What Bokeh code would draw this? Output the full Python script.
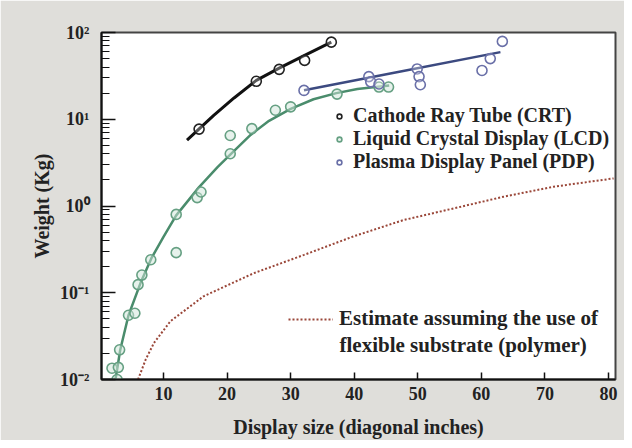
from bokeh.plotting import figure
from bokeh.models import Legend, LegendItem, Label, FixedTicker, LogTicker
from bokeh.embed import file_html
from bokeh.resources import INLINE

# ---- data ----
crt_x = [15.6, 24.6, 28.2, 32.2, 36.4]
crt_y = [7.7, 27.4, 37.6, 47.7, 77.4]
crt_fit_x = [13.7, 17.9, 21.1, 24.6, 28.2, 32.2, 36.4]
crt_fit_y = [5.74, 11.1, 17.6, 28.1, 38.9, 54.5, 77.4]

lcd_x = [1.9, 2.9, 2.7, 3.1, 4.5, 5.5, 6.0, 6.6, 8.0, 12.0, 12.0, 15.3, 15.9,
         20.5, 20.5, 23.9, 27.6, 30.0, 37.3, 43.9, 45.4]
lcd_y = [0.0135, 0.0138, 0.0100, 0.022, 0.055, 0.058, 0.124, 0.16, 0.24, 0.29,
         0.80, 1.25, 1.45, 4.0, 6.5, 7.8, 12.7, 13.9, 19.5, 23.5, 23.5]
lcd_fit_x = [2.45, 3.2, 4.5, 6.4, 8.1, 10.0, 12.0, 15.6, 18.5, 20.5, 23.7,
             26.6, 30.0, 33.6, 37.2, 40.5, 45.5]
lcd_fit_y = [0.0100, 0.0220, 0.055, 0.13, 0.25, 0.44, 0.78, 1.65, 2.8, 3.9,
             6.6, 9.6, 13.2, 17.0, 20.0, 22.3, 24.5]

pdp_x = [32.1, 42.3, 42.6, 43.9, 49.9, 50.2, 50.4, 60.1, 61.4, 63.3]
pdp_y = [21.5, 31.0, 27.0, 25.5, 38.0, 31.0, 25.0, 36.5, 50.0, 79.0]
pdp_fit_x = [32.1, 47.5, 63.0]
pdp_fit_y = [21.6, 35.8, 59.4]

est_x = [6.0, 7.2, 8.5, 11.1, 16.3, 24.2, 32.1, 39.9, 47.8, 55.7, 63.5, 71.4, 80.8]
est_y = [0.0100, 0.017, 0.0264, 0.047, 0.091, 0.168, 0.273, 0.447, 0.69, 0.94,
         1.28, 1.67, 2.08]

x_ticks = [10, 20, 30, 40, 50, 60, 70, 80]
y_tick_labels = {0.01: "10\u207b\u00b2", 0.1: "10\u207b\u00b9", 1: "10\u2070",
                 10: "10\u00b9", 100: "10\u00b2"}

series_names = ["Cathode Ray Tube (CRT)", "Liquid Crystal Display (LCD)",
                "Plasma Display Panel (PDP)"]
est_label_1 = "Estimate assuming the use of"
est_label_2 = "flexible substrate (polymer)"

FONT = "Liberation Serif"

p = figure(width=624, height=440, x_range=(0.25, 81.1), y_range=(0.01, 100),
           y_axis_type="log", output_backend="svg", toolbar_location=None,
           min_border_left=101, min_border_right=9, min_border_top=32,
           min_border_bottom=60)

p.border_fill_color = "#dfdeda"
p.background_fill_color = "white"
p.outline_line_color = "#444444"
p.outline_line_width = 2
p.xgrid.visible = False
p.ygrid.visible = False

# axes
p.xaxis.ticker = FixedTicker(ticks=x_ticks)
p.xaxis.major_tick_in = 7
p.xaxis.major_tick_out = 0
p.yaxis.ticker = LogTicker(num_minor_ticks=10)
p.yaxis.major_tick_in = 14
p.yaxis.major_tick_out = 0
p.yaxis.minor_tick_in = 8
p.yaxis.minor_tick_out = 0
p.yaxis.major_label_overrides = y_tick_labels
for ax in (p.xaxis[0], p.yaxis[0]):
    ax.axis_line_width = 2
    ax.axis_line_color = "#111111"
    ax.major_tick_line_color = "#111111"
    ax.major_tick_line_width = 1.5
    ax.major_label_text_font = FONT
    ax.major_label_text_font_style = "bold"
    ax.major_label_text_font_size = "18px"
    ax.major_label_text_color = "#222222"
    ax.axis_label_text_font = FONT
    ax.axis_label_text_font_style = "bold"
    ax.axis_label_text_font_size = "20px"
    ax.axis_label_text_color = "#222222"
p.xaxis.minor_tick_line_color = None
p.yaxis.minor_tick_line_color = "#111111"
p.xaxis.major_label_standoff = 7
p.yaxis.major_label_standoff = 12
p.xaxis.axis_label = "Display size (diagonal inches)"
p.yaxis.axis_label = "Weight (Kg)"
p.xaxis.axis_label_standoff = 13
p.yaxis.axis_label_standoff = 4

# estimate (dotted)
est_line = p.line(est_x, est_y, line_color="#9a4638", line_width=2,
                  line_dash="2 2")

# fit lines
p.line(lcd_fit_x, lcd_fit_y, line_color="#4a8c6c", line_width=2.5)
p.line(pdp_fit_x, pdp_fit_y, line_color="#3c4a80", line_width=2.5)
p.line(crt_fit_x, crt_fit_y, line_color="#111111", line_width=3)

# data points
lcd_sc = p.scatter(lcd_x, lcd_y, size=10, marker="circle", line_color="#66a083",
                   line_width=1.6, fill_color="#cfe6da", fill_alpha=0.5)
pdp_sc = p.scatter(pdp_x, pdp_y, size=10, marker="circle", line_color="#6a70a8",
                   line_width=1.6, fill_color="white", fill_alpha=0.3)
crt_sc = p.scatter(crt_x, crt_y, size=10, marker="circle", line_color="#222222",
                   line_width=1.6, fill_color="white", fill_alpha=0.3)

legend = Legend(items=[LegendItem(label=series_names[0], renderers=[crt_sc]),
                       LegendItem(label=series_names[1], renderers=[lcd_sc]),
                       LegendItem(label=series_names[2], renderers=[pdp_sc])],
                location=(232, 206), padding=0, margin=0, spacing=0,
                glyph_width=12, glyph_height=22, label_height=22,
                label_standoff=8, background_fill_alpha=0,
                border_line_color=None, label_text_font=FONT,
                label_text_font_style="bold", label_text_font_size="20px",
                label_text_color="#222222")
p.add_layout(legend)

legend2 = Legend(items=[LegendItem(label=est_label_1, renderers=[est_line])],
                 location=(187, 48), padding=0, margin=0, spacing=0,
                 glyph_width=45, glyph_height=22, label_height=22,
                 label_standoff=6, background_fill_alpha=0,
                 border_line_color=None, label_text_font=FONT,
                 label_text_font_style="bold", label_text_font_size="21px",
                 label_text_color="#222222")
p.add_layout(legend2)

p.add_layout(Label(x=238, y=35, x_units="screen", y_units="screen",
                   text=est_label_2, text_baseline="middle", text_font=FONT,
                   text_font_style="bold", text_font_size="21px",
                   text_color="#222222"))

open("out.html", "w").write(file_html(p, INLINE))
